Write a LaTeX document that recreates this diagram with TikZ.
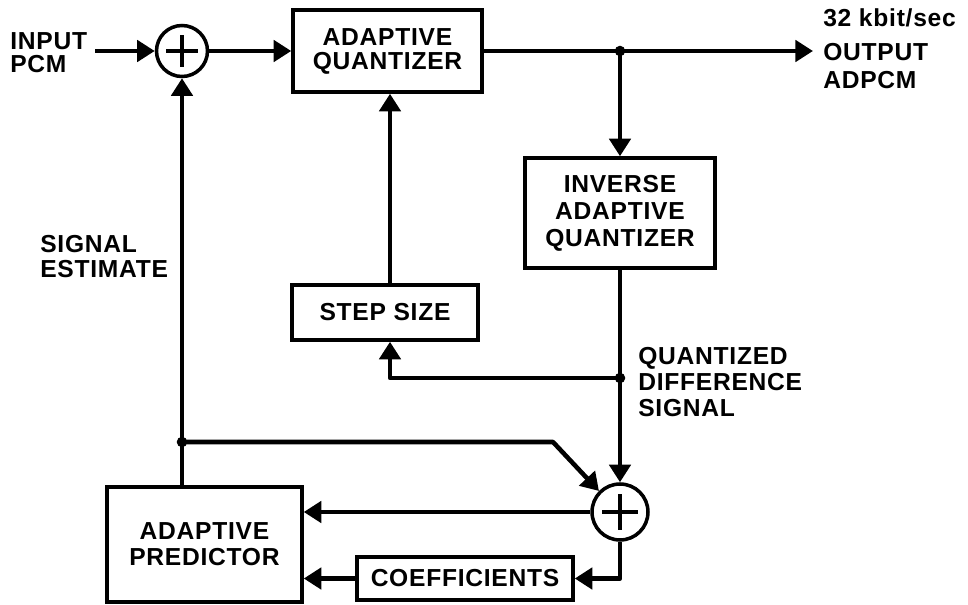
\documentclass[tikz,border=0pt]{standalone}
\usepackage{fontspec}
\setmainfont{Liberation Sans}[LetterSpace=3]
\usetikzlibrary{arrows.meta,calc}
\begin{document}
\begin{tikzpicture}[x=0.02cm,y=-0.02cm,
  every node/.style={font=\fontsize{14}{14.8}\selectfont\bfseries},
  blk/.style={draw,line width=2pt,rectangle,inner sep=0pt,align=center},
  adder/.style={draw,line width=2pt,circle,inner sep=0pt},
  plus/.style={line width=2pt},
  conn/.style={line width=2.6pt,line join=round,-{Triangle[length=10pt,width=12pt]}},
  lbl/.style={align=left,anchor=north west,inner sep=0pt},
  dotj/.style={circle,fill,inner sep=0pt,minimum size=6pt}
]
\fill[white] (0,0) rectangle (968,605);
\useasboundingbox (0,0) rectangle (968,605);

% blocks
\node[adder,minimum size=1.02cm] (add1) at (182,51) {};
\node[blk,minimum width=3.78cm,minimum height=1.64cm,font=\fontsize{14}{13.7}\selectfont\bfseries] (aq) at (387.5,51) {ADAPTIVE\\QUANTIZER};
\node[blk,minimum width=3.8cm,minimum height=2.2cm,font=\fontsize{14}{15.3}\selectfont\bfseries] (inv) at (620,213) {INVERSE\\ADAPTIVE\\QUANTIZER};
\node[blk,minimum width=3.72cm,minimum height=1.1cm] (step) at (385,312.5) {STEP SIZE};
\node[adder,minimum size=1.12cm] (add2) at (620,512) {};
\node[blk,minimum width=4.32cm,minimum height=0.86cm] (coef) at (465,578.5) {COEFFICIENTS};
\node[blk,minimum width=3.9cm,minimum height=2.3cm] (pred) at (204.5,544.5) {ADAPTIVE\\PREDICTOR};

% plus signs
\draw[plus] ([xshift=-0.32cm]add1.center) -- ([xshift=0.32cm]add1.center);
\draw[plus] ([yshift=-0.32cm]add1.center) -- ([yshift=0.32cm]add1.center);
\draw[plus] ([xshift=-0.36cm]add2.center) -- ([xshift=0.36cm]add2.center);
\draw[plus] ([yshift=-0.36cm]add2.center) -- ([yshift=0.36cm]add2.center);

% labels
\node[lbl,font=\fontsize{14}{13}\selectfont\bfseries] (inp) at (10,32) {INPUT\\PCM};
\node[lbl,font=\fontsize{14}{14.2}\selectfont\bfseries] (sig) at (40,235) {SIGNAL\\ESTIMATE};
\node[lbl] (qds) at (638,347) {QUANTIZED\\DIFFERENCE\\SIGNAL};
\node[lbl,font=\fontsize{14}{15.9}\selectfont\bfseries] (outt) at (823,8) {32 kbit/sec\\[3.9pt]OUTPUT\\ADPCM};

% coordinates
\coordinate (in0) at (95,51);
\coordinate (outend) at (813,51);
\coordinate (j1) at (620,51);
\coordinate (j2) at (620,378);
\coordinate (sx) at (390,378);
\coordinate (j3) at (182,442);
\coordinate (bend) at (553,442);

% connectors
\draw[conn] (in0) -- (add1.west);
\draw[conn] (add1.east) -- (aq.west);
\draw[conn] (aq.east) -- (outend);
\draw[conn] (j1) -- (inv.north);
\draw[conn] (inv.south) -- (add2.north);
\draw[conn] (j2) -- (sx) -- (sx |- step.south);
\draw[conn] (sx |- step.north) -- (sx |- aq.south);
\draw[conn] (add1.south |- pred.north) -- (add1.south);
\draw[conn] (j3) -- (bend) -- (add2.135);
\draw[conn] (add2.west) -- (add2.west -| pred.east);
\draw[conn] (add2.south) |- (coef.east);
\draw[conn] (coef.west) -- (coef.west -| pred.east);

% junction dots
\node[dotj] at (j1) {};
\node[dotj] at (j2) {};
\node[dotj] at (j3) {};
\end{tikzpicture}
\end{document}
